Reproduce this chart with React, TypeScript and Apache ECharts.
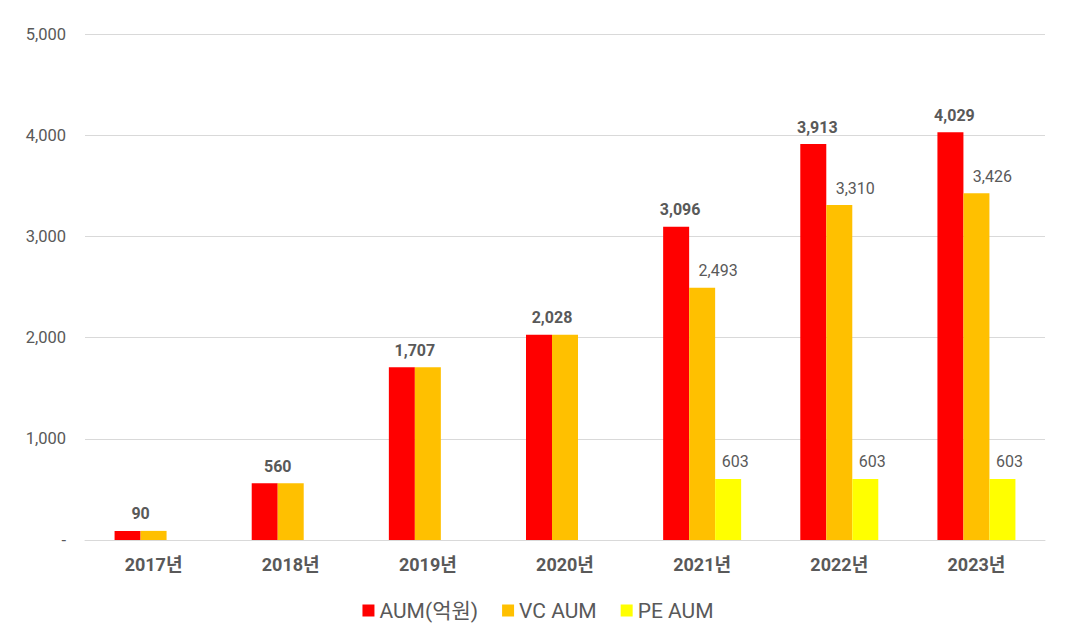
import React, { useEffect, useRef } from "react";
import * as echarts from "echarts";

const categories = ["2017년", "2018년", "2019년", "2020년", "2021년", "2022년", "2023년"];
const aumValues = [90, 560, 1707, 2028, 3096, 3913, 4029];
const vcValues = [90, 560, 1707, 2028, 2493, 3310, 3426];
const peValues = [0, 0, 0, 0, 603, 603, 603];
const seriesNames = ["AUM(억원)", "VC AUM", "PE AUM"];

const fmt = (v: number) => (v === 0 ? "-" : v.toLocaleString("en-US"));
const FONT = "Roboto, 'Noto Sans CJK KR', sans-serif";

export default function App() {
  const ref = useRef<HTMLDivElement>(null);
  useEffect(() => {
    const chart = echarts.init(ref.current!, null, { renderer: "svg" });
    const aumData = aumValues.map((v, i) => ({
      value: v,
      label: { offset: [vcValues[i] === v ? 13 : 4, 0] },
    }));
    const vcData = vcValues.map((v, i) => ({
      value: v,
      label: { show: v !== aumValues[i], offset: [16, 0] },
    }));
    const peData = peValues.map((v) => ({
      value: v,
      label: { show: v > 0, offset: [7, 0] },
    }));
    chart.setOption({
      animation: false,
      textStyle: { fontFamily: FONT },
      grid: { left: 77, right: 23, top: 26, bottom: 91, containLabel: false },
      legend: {
        top: 587,
        left: "center",
        itemWidth: 12,
        itemHeight: 12,
        itemGap: 24,
        icon: "rect",
        textStyle: { color: "#595959", fontSize: 21, fontFamily: FONT },
        data: seriesNames,
      },
      xAxis: {
        type: "category",
        data: categories,
        axisTick: { show: false },
        axisLine: { lineStyle: { color: "#d9d9d9" } },
        axisLabel: { color: "#595959", fontSize: 18, fontWeight: "bold", margin: 15, fontFamily: FONT },
      },
      yAxis: {
        type: "value",
        min: 0,
        max: 5000,
        interval: 1000,
        axisLine: { show: false },
        axisTick: { show: false },
        splitLine: { lineStyle: { color: "#d9d9d9" } },
        axisLabel: { color: "#595959", fontSize: 16.5, margin: 19, formatter: (v: number) => fmt(v), fontFamily: FONT },
      },
      series: [
        {
          name: seriesNames[0],
          type: "bar",
          barWidth: 26,
          barGap: "0%",
          itemStyle: { color: "#FF0000" },
          label: {
            show: true,
            position: "top",
            distance: 9,
            color: "#595959",
            fontSize: 16,
            fontWeight: "bold",
            fontFamily: FONT,
            formatter: (p: any) => fmt(p.value),
          },
          data: aumData,
        },
        {
          name: seriesNames[1],
          type: "bar",
          barWidth: 26,
          barGap: "0%",
          itemStyle: { color: "#FFC000" },
          label: {
            show: true,
            position: "top",
            distance: 9,
            color: "#595959",
            fontSize: 16,
            fontFamily: FONT,
            formatter: (p: any) => fmt(p.value),
          },
          data: vcData,
        },
        {
          name: seriesNames[2],
          type: "bar",
          barWidth: 26,
          barGap: "0%",
          itemStyle: { color: "#FFFF00" },
          label: {
            show: true,
            position: "top",
            distance: 9,
            color: "#595959",
            fontSize: 16,
            fontFamily: FONT,
            formatter: (p: any) => fmt(p.value),
          },
          data: peData,
        },
      ],
    });
    return () => chart.dispose();
  }, []);
  return <div ref={ref} style={{ width: 1060, height: 623 }} />;
}
